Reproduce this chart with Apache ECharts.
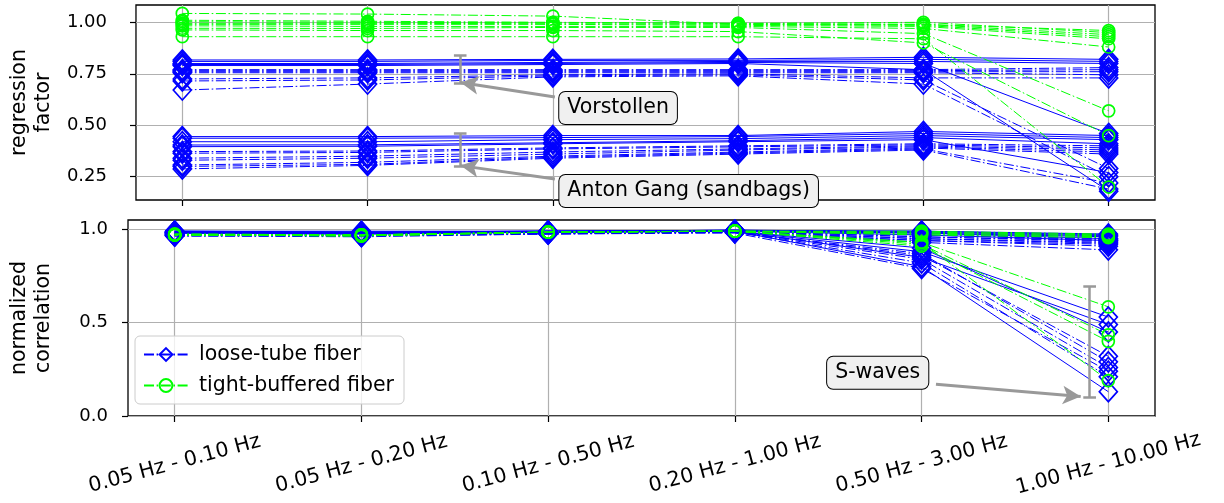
<!DOCTYPE html>
<html><head><meta charset="utf-8">
<script src="https://cdn.jsdelivr.net/npm/echarts@6/dist/echarts.min.js"></script>
<style>html,body{margin:0;padding:0;background:#fff}#c{width:1224px;height:503px}</style>
</head><body><div id="c"></div>
<script>
const categories = ['0.05 Hz - 0.10 Hz','0.05 Hz - 0.20 Hz','0.10 Hz - 0.50 Hz','0.20 Hz - 1.00 Hz','0.50 Hz - 3.00 Hz','1.00 Hz - 10.00 Hz'];
const catTicks = [0,1,2,3,4,5];
const regTicks = [0.25,0.5,0.75,1.0];
const corrTicks = [0,0.5,1.0];

// regression factor, loose-tube fiber (dash-dot lines)
const regLooseDash = [
  [0.770,0.770,0.770,0.770,0.770,0.780],
  [0.765,0.765,0.765,0.765,0.765,0.770],
  [0.760,0.760,0.760,0.760,0.760,0.760],
  [0.755,0.755,0.755,0.755,0.755,0.745],
  [0.725,0.730,0.745,0.750,0.730,0.730],
  [0.715,0.720,0.740,0.745,0.720,0.290],
  [0.671,0.700,0.735,0.740,0.700,0.250],
  [0.372,0.375,0.390,0.400,0.410,0.400],
  [0.364,0.368,0.385,0.395,0.405,0.390],
  [0.340,0.350,0.370,0.385,0.400,0.380],
  [0.330,0.340,0.360,0.380,0.395,0.370],
  [0.307,0.320,0.350,0.370,0.390,0.360],
  [0.300,0.310,0.345,0.365,0.385,0.220],
  [0.288,0.305,0.340,0.360,0.380,0.190]
];
// regression factor, loose-tube fiber (solid lines)
const regLooseSolid = [
  [0.817,0.817,0.820,0.822,0.830,0.820],
  [0.810,0.810,0.815,0.815,0.820,0.810],
  [0.800,0.800,0.805,0.810,0.810,0.800],
  [0.795,0.795,0.800,0.805,0.800,0.460],
  [0.790,0.790,0.795,0.800,0.770,0.180],
  [0.445,0.445,0.450,0.450,0.470,0.450],
  [0.437,0.437,0.440,0.445,0.460,0.440],
  [0.420,0.420,0.430,0.435,0.450,0.430],
  [0.404,0.405,0.415,0.425,0.440,0.410],
  [0.396,0.398,0.410,0.420,0.430,0.270]
];
// regression factor, tight-buffered fiber
const regTight = [
  [1.043,1.040,1.030,0.990,0.990,0.960],
  [1.010,1.005,1.000,0.995,1.000,0.950],
  [1.003,1.000,0.998,0.995,0.990,0.940],
  [0.995,0.995,0.993,0.990,0.985,0.930],
  [0.990,0.990,0.990,0.985,0.980,0.920],
  [0.983,0.980,0.980,0.980,0.970,0.880],
  [0.971,0.970,0.975,0.975,0.945,0.570],
  [0.963,0.960,0.960,0.955,0.900,0.450],
  [0.930,0.930,0.930,0.930,0.920,0.200]
];
// normalized correlation, loose-tube fiber (dash-dot)
const corrLooseDash = [
  [0.980,0.980,0.985,0.990,0.970,0.950],
  [0.975,0.975,0.985,0.990,0.960,0.940],
  [0.975,0.970,0.980,0.990,0.950,0.930],
  [0.970,0.970,0.980,0.985,0.940,0.920],
  [0.970,0.970,0.980,0.985,0.930,0.890],
  [0.970,0.965,0.980,0.985,0.870,0.290],
  [0.965,0.965,0.975,0.985,0.820,0.210],
  [0.980,0.975,0.985,0.990,0.970,0.945],
  [0.975,0.975,0.980,0.990,0.960,0.935],
  [0.975,0.970,0.980,0.985,0.950,0.925],
  [0.970,0.970,0.980,0.985,0.940,0.910],
  [0.970,0.965,0.980,0.985,0.860,0.320],
  [0.965,0.965,0.975,0.985,0.840,0.260],
  [0.965,0.960,0.975,0.980,0.790,0.240]
];
// normalized correlation, loose-tube fiber (solid)
const corrLooseSolid = [
  [0.990,0.985,0.990,0.995,0.990,0.970],
  [0.985,0.980,0.990,0.995,0.980,0.960],
  [0.985,0.980,0.985,0.990,0.880,0.530],
  [0.980,0.975,0.985,0.990,0.850,0.490],
  [0.980,0.975,0.985,0.990,0.800,0.130],
  [0.990,0.990,0.990,0.995,0.990,0.975],
  [0.990,0.985,0.990,0.995,0.985,0.965],
  [0.985,0.985,0.990,0.990,0.980,0.950],
  [0.985,0.980,0.985,0.990,0.970,0.940],
  [0.980,0.980,0.985,0.990,0.900,0.450]
];
// normalized correlation, tight-buffered fiber
const corrTight = [
  [0.970,0.970,0.985,0.990,0.990,0.975],
  [0.970,0.970,0.985,0.990,0.985,0.970],
  [0.970,0.970,0.985,0.990,0.980,0.965],
  [0.975,0.970,0.985,0.990,0.975,0.960],
  [0.975,0.970,0.985,0.990,0.970,0.955],
  [0.970,0.965,0.985,0.990,0.930,0.585],
  [0.970,0.965,0.985,0.990,0.920,0.435],
  [0.970,0.965,0.985,0.990,0.910,0.400],
  [0.970,0.965,0.985,0.990,0.930,0.190]
];

// annotations (data coordinates)
const topLabels = [['Vorstollen',2.352,0.584],['Anton Gang (sandbags)',2.733,0.181]];
const topArrows = [[2.011,0.637,1.502,0.708],[2.011,0.239,1.502,0.304]];
const topRanges = [[1.5,0.705,0.841],[1.5,0.302,0.462]];
const botLabels = [['S-waves',3.765,0.232]];
const botArrows = [[4.077,0.170,4.852,0.104]];
const botRanges = [[4.90,0.102,0.696]];

const FONT = 'DejaVu Sans';
const BLUE = '#0000ff', GREEN = '#00ff00', ANNO = '#999999';
const DASHDOT = [10,2.6,1.6,2.6];

function lineSeries(arr, name, gi, color, dash, symbol, size){
  return arr.map(vals => ({
    type:'line', name:name, xAxisIndex:gi, yAxisIndex:gi,
    data: vals.map((v,i)=>[catTicks[i], v]),
    color: color,
    symbol: symbol, symbolSize: size, showSymbol:true,
    lineStyle:{color:color, width:1, type: dash ? DASHDOT : 'solid'},
    itemStyle:{color:'rgba(0,0,0,0)', borderColor:color, borderWidth:1.7},
    emphasis:{disabled:true}, animation:false, clip:false, z:3
  }));
}
function annoSeries(gi, labels, arrows, ranges){
  const capW = 0.034;
  const rangeLines = [];
  ranges.forEach(r=>{
    rangeLines.push([{coord:[r[0],r[1]]},{coord:[r[0],r[2]]}]);
    rangeLines.push([{coord:[r[0]-capW,r[1]]},{coord:[r[0]+capW,r[1]]}]);
    rangeLines.push([{coord:[r[0]-capW,r[2]]},{coord:[r[0]+capW,r[2]]}]);
  });
  return [
    {type:'line', xAxisIndex:gi, yAxisIndex:gi, silent:true, animation:false, z:10, data:[],
     markPoint:{silent:true, animation:false, symbol:'rect', symbolSize:1, itemStyle:{color:'rgba(0,0,0,0)'},
       label:{show:true, position:'inside', formatter:'{b}', fontFamily:FONT, fontSize:20.5, color:'#000', opacity:1,
         textBorderWidth:0, backgroundColor:'#f0f0f0', borderColor:'#000', borderWidth:1, borderRadius:6, padding:[6,8,5,8]},
       data: labels.map(l=>({name:l[0], coord:[l[1],l[2]]}))},
     markLine:{silent:true, animation:false, symbol:['none','arrow'], symbolSize:[14,18],
       label:{show:false}, lineStyle:{color:ANNO, width:3, type:'solid'},
       data: arrows.map(a=>[{coord:[a[0],a[1]]},{coord:[a[2],a[3]]}])}
    },
    {type:'line', xAxisIndex:gi, yAxisIndex:gi, silent:true, animation:false, z:9, data:[],
     markLine:{silent:true, animation:false, symbol:['none','none'], label:{show:false},
       lineStyle:{color:ANNO, width:2.5, type:'solid'}, data: rangeLines}
    }
  ];
}

const DIA = [18,20];
const series = [].concat(
  lineSeries(regLooseDash, 'loose-tube fiber', 0, BLUE, true, 'diamond', DIA),
  lineSeries(regLooseSolid, 'loose-tube fiber (solid)', 0, BLUE, false, 'diamond', DIA),
  lineSeries(regTight, 'tight-buffered fiber', 0, GREEN, true, 'circle', 12),
  lineSeries(corrLooseDash, 'loose-tube fiber', 1, BLUE, true, 'diamond', DIA),
  lineSeries(corrLooseSolid, 'loose-tube fiber (solid)', 1, BLUE, false, 'diamond', DIA),
  lineSeries(corrTight, 'tight-buffered fiber', 1, GREEN, true, 'circle', 12),
  annoSeries(0, topLabels, topArrows, topRanges),
  annoSeries(1, botLabels, botArrows, botRanges)
);

const gridLine = {show:true, lineStyle:{color:'#b0b0b0', width:1.2}};
function xAx(gi, showLabels){
  return {type:'value', gridIndex:gi, min:-0.25, max:5.25,
    axisLine:{show:false, onZero:false},
    axisTick:{show:true, customValues:catTicks, length:6, lineStyle:{color:'#000', width:1.2}},
    axisLabel:{show:showLabels, customValues:catTicks, formatter:v=>categories[Math.round(v)],
      rotate:15, align:'center', verticalAlign:'middle', margin:48, fontFamily:FONT, fontSize:20.5, color:'#000'},
    splitLine:gridLine};
}
function yAx(gi, min, max, ticks, name, dec, margin){
  return {type:'value', gridIndex:gi, min:min, max:max,
     name:name, nameLocation:'middle', nameRotate:90, nameGap:72,
     nameTextStyle:{fontFamily:FONT, fontSize:20.5, color:'#000', lineHeight:24, align:'center'},
     axisLine:{show:false, onZero:false},
     axisTick:{show:true, customValues:ticks, length:6, lineStyle:{color:'#000', width:1.2}},
     axisLabel:{customValues:ticks, formatter:v=>v.toFixed(dec), fontFamily:FONT, fontSize:18, color:'#000', margin:margin},
     splitLine:gridLine};
}
const option = {
  backgroundColor:'#fff', animation:false,
  grid:[
    {left:125, top:5, width:1030, height:195, show:true, borderColor:'#000', borderWidth:1.3, backgroundColor:'rgba(0,0,0,0)'},
    {left:125, top:220, width:1030, height:196, show:true, borderColor:'#000', borderWidth:1.3, backgroundColor:'rgba(0,0,0,0)'}
  ],
  xAxis:[xAx(0,false), xAx(1,true)],
  yAxis:[
    yAx(0, 0.137, 1.084, regTicks, 'regression\nfactor', 2, 29),
    yAx(1, 0, 1.05, corrTicks, 'normalized\ncorrelation', 1, 20)
  ],
  legend:{data:['loose-tube fiber','tight-buffered fiber'], orient:'vertical', left:135, top:336,
    itemWidth:44, itemHeight:16, itemGap:10, padding:[8,10,8,8], selectedMode:false,
    backgroundColor:'rgba(255,255,255,0.8)', borderColor:'#cccccc', borderWidth:1, borderRadius:5,
    textStyle:{fontFamily:FONT, fontSize:20.5, color:'#000', padding:[0,0,0,6]}},
  series: series
};
const chart = echarts.init(document.getElementById('c'), null, {renderer:'canvas'});
chart.setOption(option);
</script></body></html>
